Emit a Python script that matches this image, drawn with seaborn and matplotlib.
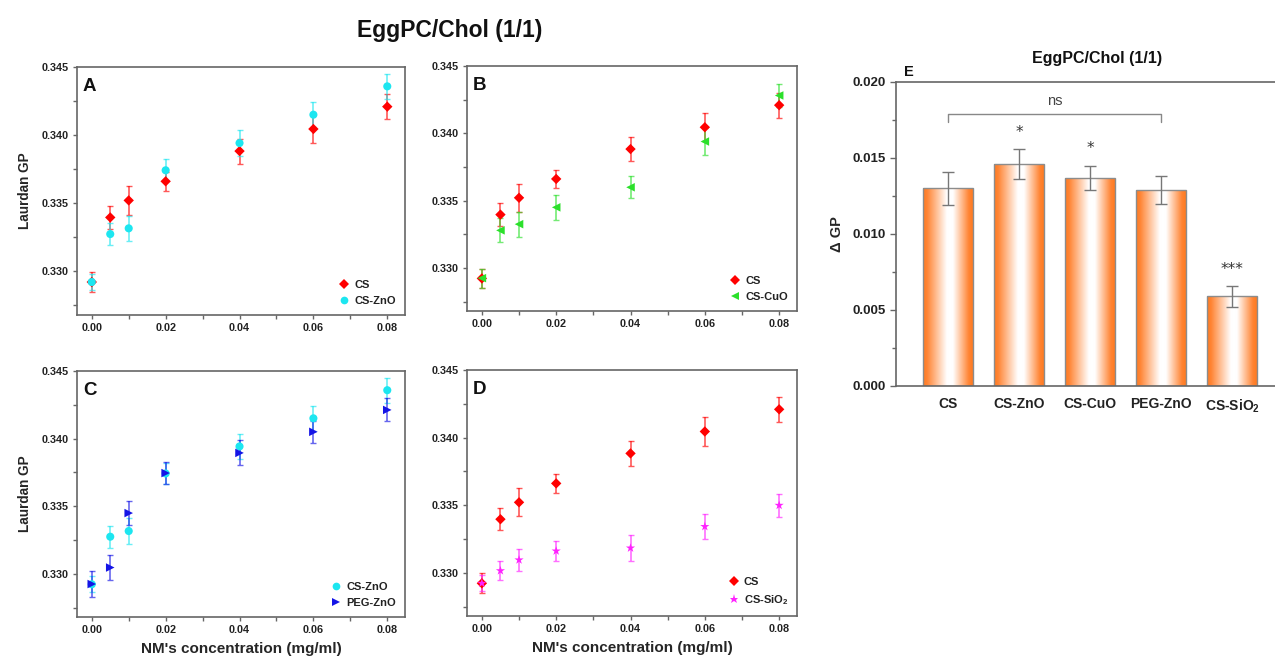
import numpy as np
import pandas as pd
import matplotlib
matplotlib.use("Agg")
import matplotlib.pyplot as plt
import seaborn as sns
from matplotlib.colors import LinearSegmentedColormap
from matplotlib.lines import Line2D
from matplotlib.ticker import MultipleLocator, FormatStrFormatter

sns.set_style("ticks")
plt.rcParams['font.family'] = ['Liberation Sans', 'DejaVu Sans']
plt.rcParams['mathtext.fontset'] = 'custom'
plt.rcParams['mathtext.bf'] = 'Liberation Sans:bold'
plt.rcParams['mathtext.rm'] = 'Liberation Sans:bold'
plt.rcParams['mathtext.default'] = 'bf'

# ---------------- data ----------------
conc = [0.0, 0.005, 0.01, 0.02, 0.04, 0.06, 0.08]

gp_cs = [0.32922, 0.33396, 0.33521, 0.33661, 0.33883, 0.34045, 0.34209]
err_cs = [0.00073, 0.00083, 0.00104, 0.00069, 0.00092, 0.00105, 0.00093]

gp_cszno = [0.32922, 0.33274, 0.33316, 0.33742, 0.33942, 0.34150, 0.34358]
err_cszno = [0.00058, 0.00080, 0.00094, 0.00080, 0.00092, 0.00092, 0.00092]

gp_cscuo = [0.32924, 0.33279, 0.33325, 0.33450, 0.33599, 0.33939, 0.34281]
err_cscuo = [0.00070, 0.00090, 0.00093, 0.00095, 0.00082, 0.00097, 0.00085]

gp_pegzno = [0.32924, 0.33046, 0.33449, 0.33745, 0.33894, 0.34050, 0.34212]
err_pegzno = [0.00093, 0.00092, 0.00090, 0.00083, 0.00093, 0.00080, 0.00085]

gp_cssio2 = [0.32922, 0.33015, 0.33095, 0.33161, 0.33183, 0.33342, 0.33499]
err_cssio2 = [0.00060, 0.00072, 0.00080, 0.00077, 0.00095, 0.00094, 0.00084]

bar_labels = ['CS', 'CS-ZnO', 'CS-CuO', 'PEG-ZnO', 'CS-SiO$_2$']
dgp = [0.0130, 0.0146, 0.0137, 0.0129, 0.0059]
dgp_err = [0.0011, 0.0010, 0.0008, 0.0009, 0.00068]
sig_marks = ['', '*', '*', '', '***']

# series styles
series = {
    'CS': dict(y=gp_cs, e=err_cs, color='#FF0000', marker='D', s=28, label='CS'),
    'CS-ZnO': dict(y=gp_cszno, e=err_cszno, color='#1CE6F0', marker='o', s=34, label='CS-ZnO'),
    'CS-CuO': dict(y=gp_cscuo, e=err_cscuo, color='#2BE02B', marker='<', s=38, label='CS-CuO'),
    'PEG-ZnO': dict(y=gp_pegzno, e=err_pegzno, color='#1414E6', marker='>', s=38, label='PEG-ZnO'),
    'CS-SiO2': dict(y=gp_cssio2, e=err_cssio2, color='#FF22FF', marker='*', s=48, label='CS-SiO$_2$'),
}

W, H = 1275, 659
fig = plt.figure(figsize=(W / 100, H / 100), dpi=100)

def fr(left, top, right, bottom):
    return [left / W, 1 - bottom / H, (right - left) / W, (bottom - top) / H]

panels = [
    ('A', fr(77, 67, 405, 315), ['CS', 'CS-ZnO'], True, False),
    ('B', fr(467, 66, 797, 311), ['CS', 'CS-CuO'], False, False),
    ('C', fr(77, 371, 405, 617), ['CS-ZnO', 'PEG-ZnO'], True, True),
    ('D', fr(467, 370, 797, 616), ['CS', 'CS-SiO2'], False, True),
]

spine_col = '#666666'
for letter, pos, keys, ylab, xlab in panels:
    ax = fig.add_axes(pos)
    handles = []
    for k in keys:
        d = series[k]
        ax.errorbar(conc, d['y'], yerr=d['e'], fmt='none', ecolor=d['color'],
                    elinewidth=1.2, capsize=2.5, capthick=1.0, alpha=0.65, zorder=2)
        sns.scatterplot(x=conc, y=d['y'], marker=d['marker'], color=d['color'],
                        s=d['s'], edgecolor='none', linewidth=0, ax=ax, zorder=3)
        handles.append(Line2D([], [], ls='none', marker=d['marker'], color=d['color'],
                              markersize=np.sqrt(d['s']) * 0.95, markeredgewidth=0,
                              label=d['label']))
    ax.set_xlim(-0.004, 0.0848)
    ax.set_ylim(0.3268, 0.345)
    ax.xaxis.set_major_locator(MultipleLocator(0.02))
    ax.xaxis.set_minor_locator(MultipleLocator(0.01))
    ax.yaxis.set_major_locator(MultipleLocator(0.005))
    ax.yaxis.set_minor_locator(MultipleLocator(0.0025))
    ax.xaxis.set_major_formatter(FormatStrFormatter('%.2f'))
    ax.yaxis.set_major_formatter(FormatStrFormatter('%.3f'))
    ax.tick_params(which='both', direction='out', color=spine_col, width=1)
    ax.tick_params(which='major', length=3, labelsize=7.8, pad=3)
    ax.tick_params(which='minor', length=3)
    for lbl in ax.get_xticklabels() + ax.get_yticklabels():
        lbl.set_fontweight('bold')
        lbl.set_color('#222222')
    for sp in ax.spines.values():
        sp.set_color(spine_col)
        sp.set_linewidth(1.2)
    ax.text(0.018, 0.955, letter, transform=ax.transAxes, fontsize=13.5,
            fontweight='bold', ha='left', va='top', color='#111111')
    leg = ax.legend(handles=handles, loc='lower right', bbox_to_anchor=(1.0, 0.0),
                    frameon=False, fontsize=8, handletextpad=0.3, handlelength=1.2,
                    labelspacing=0.55, borderaxespad=0.4)
    for t in leg.get_texts():
        t.set_fontweight('bold')
        t.set_color('#222222')
    if ylab:
        ax.set_ylabel('Laurdan GP', fontsize=9.8, fontweight='bold', labelpad=7)
    if xlab:
        ax.set_xlabel("NM's concentration (mg/ml)", fontsize=11, fontweight='bold', labelpad=5)

fig.text(450 / W, 1 - 30 / H, 'EggPC/Chol (1/1)', ha='center', va='center',
         fontsize=16.5, fontweight='bold', color='#111111')

# ---------------- panel E ----------------
axE = fig.add_axes(fr(896, 82, 1275, 386))
dfE = pd.DataFrame({'np': bar_labels, 'dgp': dgp})
sns.barplot(data=dfE, x='np', y='dgp', width=0.7, errorbar=None, ax=axE,
            edgecolor='#8c8c8c', linewidth=1.0, color='#FF7F27', zorder=2)
axE.errorbar(range(len(dgp)), dgp, yerr=dgp_err, fmt='none', ecolor='#777777',
             elinewidth=1.0, capsize=4, capthick=1.0, zorder=4)
cmap = LinearSegmentedColormap.from_list('og', [(0.0, '#FF7A20'), (0.08, '#FF8433'),
                                                (0.48, '#FFFFFF'), (0.6, '#FFFFFF'),
                                                (0.92, '#FF8433'), (1.0, '#FF7A20')])
grad = np.linspace(0, 1, 256).reshape(1, -1)
for p in list(axE.patches):
    x0, y0 = p.get_x(), p.get_y()
    w, h = p.get_width(), p.get_height()
    im = axE.imshow(grad, extent=[x0, x0 + w, y0, y0 + h], aspect='auto', cmap=cmap,
                    zorder=1.5, interpolation='bicubic')
    im.set_clip_path(p)
    p.set_facecolor('none')
axE.set_xlim(-0.73, 4.6)
axE.set_ylim(0, 0.020)
axE.yaxis.set_major_locator(MultipleLocator(0.005))
axE.yaxis.set_minor_locator(MultipleLocator(0.0025))
axE.yaxis.set_major_formatter(FormatStrFormatter('%.3f'))
axE.tick_params(axis='y', which='both', direction='out', color=spine_col, width=1)
axE.tick_params(axis='y', which='major', length=4, labelsize=9.5)
axE.tick_params(axis='y', which='minor', length=3)
axE.tick_params(axis='x', length=0, labelsize=10, pad=8)
for lbl in axE.get_xticklabels() + axE.get_yticklabels():
    lbl.set_fontweight('bold')
    lbl.set_color('#222222')
axE.set_xlabel('')
axE.set_ylabel('Δ GP', fontsize=10.5, fontweight='bold', labelpad=6)
for name, sp in axE.spines.items():
    sp.set_color(spine_col)
    sp.set_linewidth(1.2)
axE.spines['right'].set_visible(False)

for i, m in enumerate(sig_marks):
    if m:
        axE.text(i, dgp[i] + dgp_err[i] + 0.0006, m, ha='center', va='bottom',
                 fontsize=11, color='#333333', family='DejaVu Sans')
# ns bracket
axE.plot([0, 0, 3, 3], [0.0174, 0.0179, 0.0179, 0.0174], color='#888888', lw=1.0,
         clip_on=False, zorder=5)
axE.text(1.5, 0.0183, 'ns', ha='center', va='bottom', fontsize=10.5, color='#444444',
         fontweight='normal')
axE.text(0.02, 1.01, 'E', transform=axE.transAxes, ha='left', va='bottom',
         fontsize=10.5, fontweight='bold', color='#111111')
fig.text(1097 / W, 1 - 58 / H, 'EggPC/Chol (1/1)', ha='center', va='center',
         fontsize=11.5, fontweight='bold', color='#111111')

fig.savefig('out.png', dpi=100)
